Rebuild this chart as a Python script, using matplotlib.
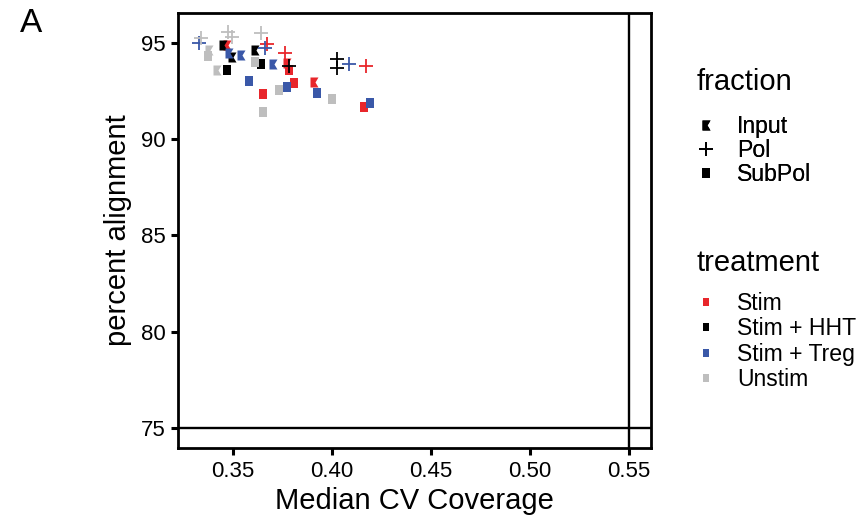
import matplotlib
matplotlib.use("Agg")
import matplotlib.pyplot as plt
from matplotlib.path import Path
from matplotlib.lines import Line2D

plt.rcParams['font.family'] = ['Liberation Sans', 'DejaVu Sans']

# ---- data ----
treatments = ['Stim', 'Stim + HHT', 'Stim + Treg', 'Unstim']
fractions = ['Input', 'Pol', 'SubPol']

cv = [
    # Stim
    0.367, 0.376, 0.417,
    0.347, 0.377, 0.391,
    0.378, 0.381, 0.365, 0.416,
    # Stim + HHT
    0.4025, 0.4025, 0.378,
    0.345, 0.361, 0.3495,
    0.347, 0.364,
    # Stim + Treg
    0.333, 0.366, 0.4085,
    0.348, 0.354, 0.370,
    0.358, 0.377, 0.3925, 0.419,
    # Unstim
    0.334, 0.3475, 0.3495, 0.364,
    0.338, 0.342,
    0.3375, 0.361, 0.373, 0.365, 0.400,
]
align = [
    94.9, 94.45, 93.8,
    94.85, 93.95, 92.95,
    93.55, 92.9, 92.35, 91.65,
    94.15, 93.7, 93.8,
    94.85, 94.6, 94.25,
    93.55, 93.9,
    94.95, 94.7, 93.9,
    94.45, 94.35, 93.9,
    93.0, 92.7, 92.4, 91.85,
    95.25, 95.55, 95.3, 95.5,
    94.6, 93.55,
    94.3, 94.0, 92.55, 91.4, 92.05,
]
fraction = (
    ['Pol'] * 3 + ['Input'] * 3 + ['SubPol'] * 4
    + ['Pol'] * 3 + ['Input'] * 3 + ['SubPol'] * 2
    + ['Pol'] * 3 + ['Input'] * 3 + ['SubPol'] * 4
    + ['Pol'] * 4 + ['Input'] * 2 + ['SubPol'] * 5
)
treatment = (
    ['Stim'] * 10 + ['Stim + HHT'] * 8 + ['Stim + Treg'] * 10 + ['Unstim'] * 11
)

x_ref = 0.55
y_ref = 75

# ---- styling ----
colors = {'Stim': '#E8262B', 'Stim + HHT': '#000000',
          'Stim + Treg': '#3A58A8', 'Unstim': '#BEBEBE'}

input_marker = Path([(-0.4, -0.5), (0.4, -0.5), (0.1, 0.0), (0.4, 0.5),
                     (-0.4, 0.5), (-0.4, -0.5)],
                    [Path.MOVETO, Path.LINETO, Path.LINETO, Path.LINETO,
                     Path.LINETO, Path.CLOSEPOLY])
sub_marker = Path([(-0.4, -0.5), (0.4, -0.5), (0.4, 0.5), (-0.4, 0.5),
                   (-0.4, -0.5)],
                  [Path.MOVETO, Path.LINETO, Path.LINETO, Path.LINETO,
                   Path.CLOSEPOLY])
markers = {'Input': input_marker, 'Pol': '+', 'SubPol': sub_marker}
msize = {'Input': 7.2, 'Pol': 9.5, 'SubPol': 7.0}

fig = plt.figure(figsize=(8.63, 5.18), dpi=100)
ax = fig.add_axes([0.2063, 0.1351, 0.5481, 0.8398])

for t in treatments:
    for f in fractions:
        xs = [c for c, fr, tr in zip(cv, fraction, treatment) if fr == f and tr == t]
        ys = [a for a, fr, tr in zip(align, fraction, treatment) if fr == f and tr == t]
        ax.plot(xs, ys, linestyle='none', marker=markers[f], markersize=msize[f],
                color=colors[t], markeredgewidth=1.3 if f == 'Pol' else 0)

ax.axhline(y_ref, color='black', linewidth=1.7)
ax.axvline(x_ref, color='black', linewidth=1.7)

ax.set_xlim(0.3222, 0.5611)
ax.set_ylim(73.97, 96.53)
ax.set_xticks([0.35, 0.40, 0.45, 0.50, 0.55])
ax.set_xticklabels(['0.35', '0.40', '0.45', '0.50', '0.55'])
ax.set_yticks([75, 80, 85, 90, 95])

for s in ax.spines.values():
    s.set_linewidth(2.0)
ax.tick_params(length=5, width=2.2, labelsize=16, pad=4)
ax.set_xlabel('Median CV Coverage', fontsize=21, labelpad=4)
ax.set_ylabel('percent alignment', fontsize=21, labelpad=6)

fig.text(0.023, 0.955, 'A', fontsize=24, ha='left', va='center')

# ---- legends (titles placed as text, entries as legends) ----
fig.text(0.8076, 0.8417, 'fraction', fontsize=21, ha='left', va='center')
fig.text(0.8076, 0.4923, 'treatment', fontsize=21, ha='left', va='center')

frac_handles = [Line2D([], [], linestyle='none', marker=markers[f], color='black',
                       markersize=msize[f], markeredgewidth=1.3 if f == 'Pol' else 0)
                for f in fractions]
leg1 = fig.legend(frac_handles, fractions, loc='upper left',
                  bbox_to_anchor=(0.8076, 0.778), frameon=False, fontsize=16.6,
                  handlelength=0.8, handletextpad=0.95, labelspacing=0.04,
                  borderpad=0, borderaxespad=0)

treat_handles = [Line2D([], [], linestyle='none', marker=sub_marker,
                        color=colors[t], markersize=5.5, markeredgewidth=0)
                 for t in treatments]
leg2 = fig.legend(treat_handles, treatments, loc='upper left',
                  bbox_to_anchor=(0.8076, 0.436), frameon=False, fontsize=16.6,
                  handlelength=0.8, handletextpad=0.95, labelspacing=0.1,
                  borderpad=0, borderaxespad=0)
fig.add_artist(leg1)

fig.savefig('out.png', dpi=100)
